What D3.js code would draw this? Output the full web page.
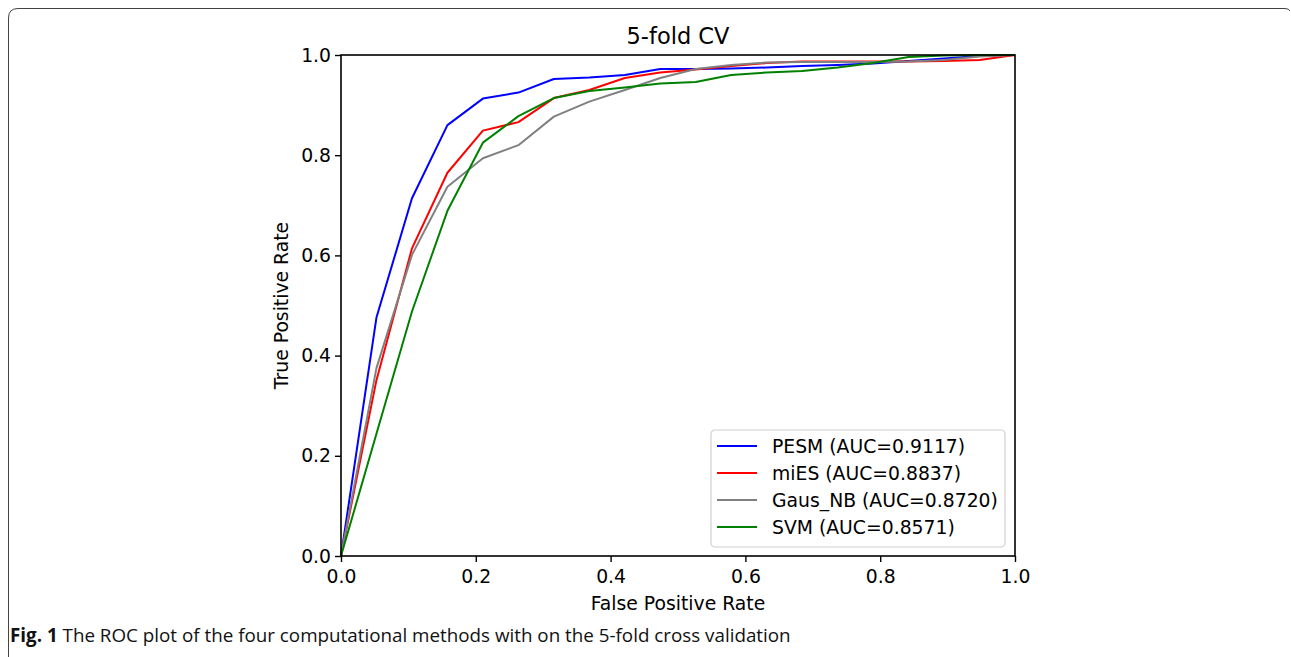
<!DOCTYPE html>
<html>
<head>
<meta charset="utf-8">
<script src="https://cdn.jsdelivr.net/npm/d3@7"></script>
<style>
  body { margin: 0; background: #fff; }
  svg { display: block; }
</style>
</head>
<body>
<div id="vis"></div>
<script>
// false positive rate steps (shared by all four curves)
const fpr = [0, 0.0526, 0.1053, 0.1579, 0.2105, 0.2632, 0.3158, 0.3684, 0.4211, 0.4737,
             0.5263, 0.5789, 0.6316, 0.6842, 0.7368, 0.7895, 0.8421, 0.8947, 0.9474, 1.0]

const pesm = [0, 0.476, 0.714, 0.860, 0.913, 0.925, 0.952, 0.955, 0.960, 0.972,
              0.972, 0.973, 0.975, 0.978, 0.980, 0.983, 0.988, 0.993, 0.998, 1.0]
const mies = [0, 0.351, 0.614, 0.765, 0.849, 0.866, 0.914, 0.930, 0.954, 0.965,
              0.971, 0.978, 0.984, 0.987, 0.987, 0.987, 0.987, 0.988, 0.990, 1.0]
const gausNB = [0, 0.375, 0.601, 0.737, 0.794, 0.820, 0.877, 0.907, 0.930, 0.954,
                0.972, 0.980, 0.985, 0.986, 0.986, 0.986, 0.987, 0.990, 0.997, 1.0]
const svm = [0, 0.244, 0.488, 0.689, 0.825, 0.878, 0.914, 0.928, 0.935, 0.943,
             0.946, 0.960, 0.965, 0.968, 0.975, 0.984, 0.996, 0.999, 1.0, 1.0]

const seriesNames = ['PESM (AUC=0.9117)', 'miES (AUC=0.8837)', 'Gaus_NB (AUC=0.8720)', 'SVM (AUC=0.8571)']
const seriesValues = [pesm, mies, gausNB, svm]
const seriesColors = ['blue', 'red', 'gray', 'green']

const tickValues = [0, 0.2, 0.4, 0.6, 0.8, 1.0]

const W = 1291, H = 657
const margin = {left: 341, top: 55, right: 276, bottom: 101}

const svg = d3.select('#vis').append('svg')
    .attr('width', W)
    .attr('height', H)

// figure frame (rounded top-left corner, open on the right and bottom)
svg.append('path')
    .attr('d', 'M8.5,657 L8.5,18 Q8.5,8.5 18,8.5 L1285,8.5 Q1289,8.5 1290,11')
    .attr('fill', 'none')
    .attr('stroke', '#444')
    .attr('stroke-width', 1)

const x = d3.scaleLinear([0, 1], [margin.left, W - margin.right])
const y = d3.scaleLinear([0, 1], [H - margin.bottom, margin.top])

const plotFont = 'DejaVu Sans'
const fontSize = 18.8

// curves
const line = d3.line()
    .x((d, i) => x(fpr[i]))
    .y(d => y(d))

svg.selectAll('.curve')
    .data(seriesValues)
    .enter()
    .append('path')
        .attr('class', 'curve')
        .attr('d', d => line(d))
        .attr('fill', 'none')
        .attr('stroke', (d, i) => seriesColors[i])
        .attr('stroke-width', 2)
        .attr('stroke-linejoin', 'round')

// axes
const xAxis = d3.axisBottom(x)
    .tickValues(tickValues)
    .tickFormat(d3.format('.1f'))
    .tickSize(6)
    .tickPadding(8)
const yAxis = d3.axisLeft(y)
    .tickValues(tickValues)
    .tickFormat(d3.format('.1f'))
    .tickSize(6)
    .tickPadding(4)

const styleAxis = g => {
    g.selectAll('path, line').attr('stroke', '#000').attr('stroke-width', 1.4)
    g.selectAll('text').attr('fill', '#000').attr('font-family', plotFont).attr('font-size', fontSize)
    g.select('.domain').remove()
}

svg.append('g')
    .attr('transform', `translate(0, ${y(0)})`)
    .call(xAxis)
    .call(styleAxis)

svg.append('g')
    .attr('transform', `translate(${x(0)}, 0)`)
    .call(yAxis)
    .call(styleAxis)

// plot frame
svg.append('rect')
    .attr('x', x(0))
    .attr('y', y(1))
    .attr('width', x(1) - x(0))
    .attr('height', y(0) - y(1))
    .attr('fill', 'none')
    .attr('stroke', '#000')
    .attr('stroke-width', 1.6)

// title and axis labels
svg.append('text')
    .text('5-fold CV')
    .attr('x', (x(0) + x(1)) / 2)
    .attr('y', 44)
    .attr('text-anchor', 'middle')
    .attr('font-family', plotFont)
    .attr('font-size', 22.5)

svg.append('text')
    .text('False Positive Rate')
    .attr('x', (x(0) + x(1)) / 2)
    .attr('y', 610)
    .attr('text-anchor', 'middle')
    .attr('font-family', plotFont)
    .attr('font-size', fontSize)

svg.append('text')
    .text('True Positive Rate')
    .attr('transform', `translate(288, ${(y(0) + y(1)) / 2}) rotate(-90)`)
    .attr('text-anchor', 'middle')
    .attr('font-family', plotFont)
    .attr('font-size', fontSize)

// legend
const legend = svg.append('g').attr('transform', 'translate(711, 430)')
legend.append('rect')
    .attr('width', 294)
    .attr('height', 117)
    .attr('rx', 4)
    .attr('fill', 'white')
    .attr('fill-opacity', 0.8)
    .attr('stroke', '#d0d0d0')
    .attr('stroke-width', 1.2)

const items = legend.selectAll('.item')
    .data(seriesNames)
    .enter()
    .append('g')
        .attr('class', 'item')
        .attr('transform', (d, i) => `translate(0, ${16 + i * 27})`)

items.append('line')
    .attr('x1', 6).attr('x2', 46)
    .attr('stroke', (d, i) => seriesColors[i])
    .attr('stroke-width', 2)

items.append('text')
    .text(d => d)
    .attr('x', 61)
    .attr('dy', '0.35em')
    .attr('font-family', plotFont)
    .attr('font-size', fontSize)

// caption, sized so it spans the same width as the original
const caption = svg.append('text')
    .attr('x', 10)
    .attr('y', 642)
    .attr('font-family', 'Open Sans')
    .attr('font-size', 16)
    .attr('fill', '#111')
caption.append('tspan').attr('font-weight', 'bold').text('Fig. 1')
caption.append('tspan').text(' The ROC plot of the four computational methods with on the 5-fold cross validation')
const capLen = caption.node().getComputedTextLength()
caption.attr('font-size', 16 * 781 / capLen)
</script>
</body>
</html>
